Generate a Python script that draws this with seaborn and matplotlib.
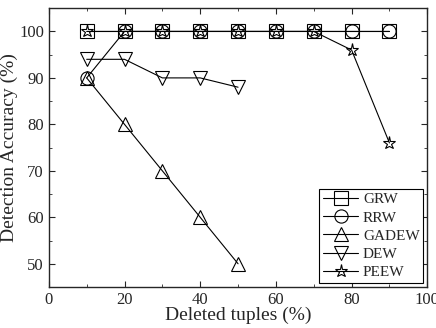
import numpy as np
import pandas as pd
import matplotlib
matplotlib.use("Agg")
import matplotlib.pyplot as plt
from matplotlib.ticker import MultipleLocator
import seaborn as sns

# data
deleted = [10, 20, 30, 40, 50, 60, 70, 80, 90]
grw = [100, 100, 100, 100, 100, 100, 100, 100, 100]
rrw = [90, 100, 100, 100, 100, 100, 100, 100, 100]
gadew = [90, 80, 70, 60, 50]
dew = [94, 94, 90, 90, 88]
peew = [100, 100, 100, 100, 100, 100, 100, 96, 76]

methods = ["GRW", "RRW", "GADEW", "DEW", "PEEW"]
series = [grw, rrw, gadew, dew, peew]
marker_map = {"GRW": "s", "RRW": "o", "GADEW": "^", "DEW": "v", "PEEW": "*"}

rows = []
for name, vals in zip(methods, series):
    for x, v in zip(deleted, vals):
        rows.append({"Deleted": x, "Accuracy": v, "Method": name})
df = pd.DataFrame(rows)

sns.set_style("ticks")
plt.rcParams["font.family"] = ["Liberation Serif", "DejaVu Serif"]

fig, ax = plt.subplots(figsize=(4.36, 3.28), dpi=100)

sns.lineplot(data=df, x="Deleted", y="Accuracy", hue="Method", style="Method",
             hue_order=methods, style_order=methods,
             palette=["black"] * 5, markers=marker_map, dashes=False,
             markersize=9.5, markerfacecolor="none", markeredgecolor="black",
             markeredgewidth=0.8, linewidth=0.8, ax=ax)

ax.set_xlim(0, 100)
ax.set_ylim(45, 105)
ax.xaxis.set_major_locator(MultipleLocator(20))
ax.xaxis.set_minor_locator(MultipleLocator(10))
ax.yaxis.set_minor_locator(MultipleLocator(5))
ax.set_yticks([50, 60, 70, 80, 90, 100])
ax.tick_params(which="both", direction="in", top=True, right=True, labelsize=12)
ax.tick_params(which="major", length=4)
ax.tick_params(which="minor", length=2.5)
for s in ax.spines.values():
    s.set_linewidth(1.0)

ax.set_xlabel("Deleted tuples (%)", fontsize=14, labelpad=-1)
ax.set_ylabel("Detection Accuracy (%)", fontsize=14, labelpad=1)

leg = ax.legend(loc="lower right", fontsize=11, frameon=True, fancybox=False,
                edgecolor="black", framealpha=1, handlelength=2.3,
                labelspacing=0.3, borderaxespad=0.25, handletextpad=0.3,
                borderpad=0.25)
leg.get_frame().set_linewidth(0.8)

fig.subplots_adjust(left=0.112, right=0.98, top=0.975, bottom=0.125)
fig.savefig("out.png", dpi=100)
